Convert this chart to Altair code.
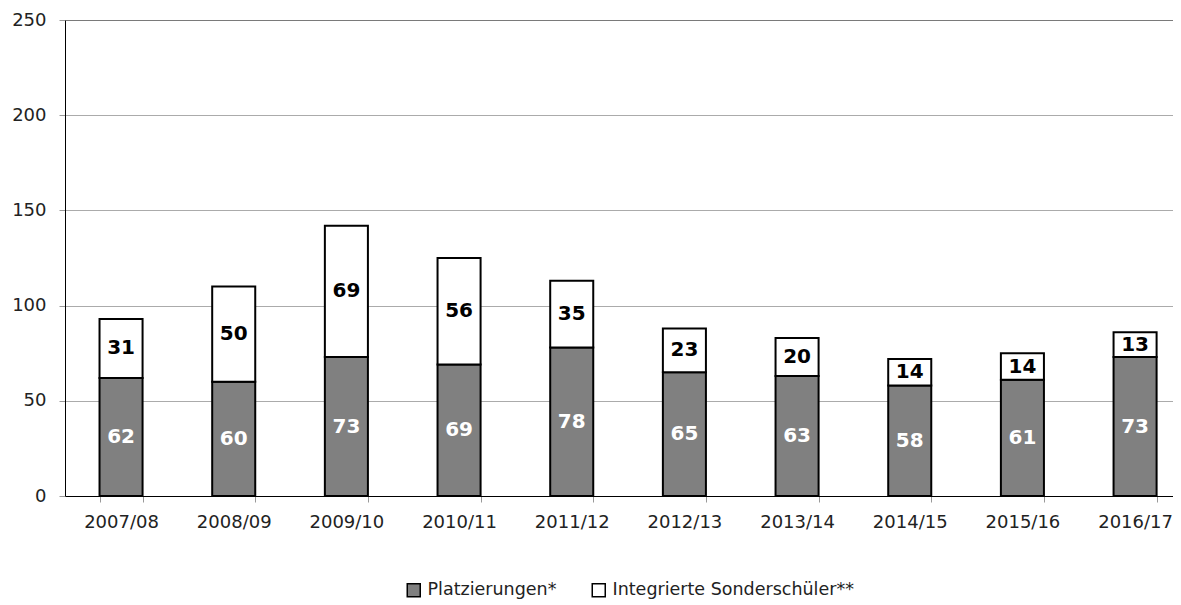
import altair as alt
import pandas as pd

years = ["2007/08", "2008/09", "2009/10", "2010/11", "2011/12",
         "2012/13", "2013/14", "2014/15", "2015/16", "2016/17"]
platzierungen = [62, 60, 73, 69, 78, 65, 63, 58, 61, 73]
integrierte = [31, 50, 69, 56, 35, 23, 20, 14, 14, 13]
series = ["Platzierungen*", "Integrierte Sonderschüler**"]
y_ticks = [0, 50, 100, 150, 200, 250]

rows = []
for i, yr in enumerate(years):
    rows.append({"year": yr, "series": series[0], "order": 0, "value": platzierungen[i]})
    rows.append({"year": yr, "series": series[1], "order": 1, "value": integrierte[i]})
df = pd.DataFrame(rows)

FONT = "DejaVu Sans"

base = (
    alt.Chart(df)
    .transform_stack(stack="value", groupby=["year"], as_=["v0", "v1"],
                     sort=[alt.SortField("order", order="ascending")])
    .transform_calculate(mid="(datum.v0 + datum.v1) / 2")
)

# band layout: the reference plot area runs past the right edge of the image
x_scale = alt.Scale(paddingInner=0.618, paddingOuter=0.226, align=0.678)

x_enc = alt.X(
    "year:N", sort=years, scale=x_scale,
    axis=alt.Axis(title=None, labelAngle=0, tickBand="extent", labelFont=FONT,
                  labelFontSize=18, labelColor="#222222", domainColor="black",
                  domainWidth=1, tickColor="#999999", tickSize=6, labelPadding=11,
                  grid=False),
)
y_scale = alt.Scale(domain=[0, 250], nice=False)

bars = base.mark_bar(stroke="black", strokeWidth=2, strokeJoin="miter").encode(
    x=x_enc,
    y=alt.Y("v0:Q", scale=y_scale,
            axis=alt.Axis(title=None, values=y_ticks, labelFont=FONT, labelFontSize=18,
                          labelColor="#222222", domainColor="black", domainWidth=1,
                          tickColor="#999999", tickSize=6, labelPadding=13,
                          gridColor=alt.condition(alt.datum.value == 250,
                                                  alt.value("#7a7a7a"),
                                                  alt.value("#ababab")),
                          gridWidth=1)),
    y2="v1:Q",
    fill=alt.Fill("series:N", sort=series,
                  scale=alt.Scale(domain=series, range=["#808080", "#ffffff"]),
                  legend=alt.Legend(title=None, orient="none", direction="horizontal",
                                    legendX=340, legendY=561, symbolType="square",
                                    symbolSize=169, symbolStrokeColor="black",
                                    symbolStrokeWidth=1.5, labelFont=FONT,
                                    labelFontSize=17.5, labelColor="#222222",
                                    labelOffset=5, columnPadding=32, labelLimit=400,
                                    padding=0)),
)

text_bottom = base.transform_filter(alt.datum.order == 0).mark_text(
    font=FONT, fontSize=20, fontWeight="bold", color="white", baseline="middle"
).encode(x=alt.X("year:N", sort=years, scale=x_scale), y=alt.Y("mid:Q"), text="value:Q")

text_top = base.transform_filter(alt.datum.order == 1).mark_text(
    font=FONT, fontSize=20, fontWeight="bold", color="black", baseline="middle"
).encode(x=alt.X("year:N", sort=years, scale=x_scale), y=alt.Y("mid:Q"), text="value:Q")

chart = (
    alt.layer(bars, text_bottom, text_top)
    .properties(width=1108, height=476,
                autosize=alt.AutoSizeParams(type="none"),
                padding={"left": 57, "top": 12, "right": 0, "bottom": 104})
    .configure_view(stroke=None)
)

chart.save("out.html", embed_options={"renderer": "svg", "actions": False})
